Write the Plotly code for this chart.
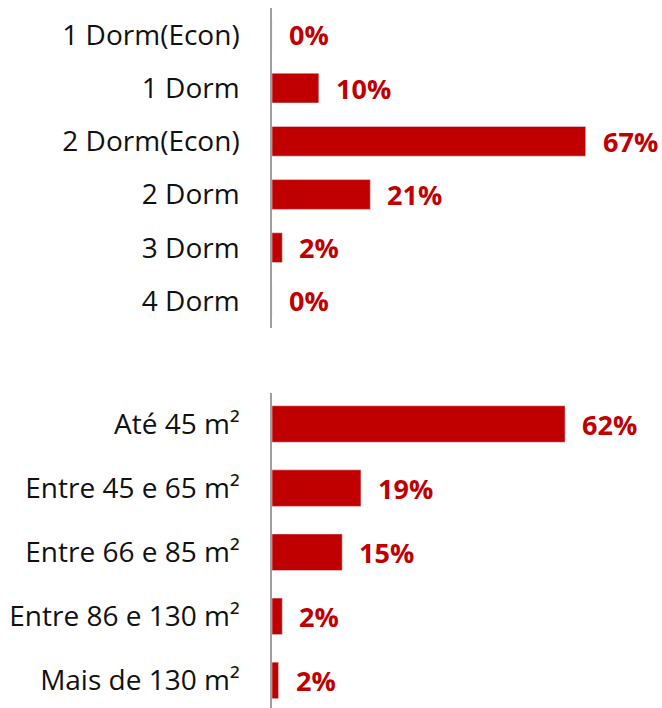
import plotly.graph_objects as go

# Top panel data
rooms_cats = ["1 Dorm(Econ)", "1 Dorm", "2 Dorm(Econ)", "2 Dorm", "3 Dorm", "4 Dorm"]
rooms_vals = [0, 10, 67, 21, 2.2, 0]
rooms_labels = ["0%", "10%", "67%", "21%", "2%", "0%"]

# Bottom panel data
area_cats = ["Até 45 m²", "Entre 45 e 65 m²", "Entre 66 e 85 m²", "Entre 86 e 130 m²", "Mais de 130 m²"]
area_vals = [62.6, 19, 15, 2.2, 1.4]
area_labels = ["62%", "19%", "15%", "2%", "2%"]

RED = "#C00000"
FONT = "Open Sans"

fig = go.Figure()
fig.add_trace(go.Bar(y=rooms_cats, x=rooms_vals, orientation="h", marker_color=RED,
                     width=0.56, xaxis="x", yaxis="y", hoverinfo="skip"))
fig.add_trace(go.Bar(y=area_cats, x=area_vals, orientation="h", marker_color=RED,
                     width=0.57, xaxis="x2", yaxis="y2", hoverinfo="skip"))

ann = []
for c, v, t in zip(rooms_cats, rooms_vals, rooms_labels):
    ann.append(dict(x=v, y=c, xref="x", yref="y", text=t, showarrow=False,
                    xanchor="left", yanchor="middle", xshift=15,
                    font=dict(family=FONT, size=27, color=RED, weight="bold")))
for c, v, t in zip(area_cats, area_vals, area_labels):
    ann.append(dict(x=v, y=c, xref="x2", yref="y2", text=t, showarrow=False,
                    xanchor="left", yanchor="middle", xshift=15,
                    font=dict(family=FONT, size=27, color=RED, weight="bold")))

H = 708
xcommon = dict(visible=False, range=[0, 83.3], showgrid=False, zeroline=False, fixedrange=True)
ycommon = dict(showline=True, linecolor="#A0A0A0", linewidth=1.5, showgrid=False,
               zeroline=False, ticks="", ticklabelstandoff=25,
               tickfont=dict(family=FONT, size=28, color="#111111"))

fig.update_layout(
    width=662, height=H,
    margin=dict(l=272, r=0, t=0, b=0),
    paper_bgcolor="white", plot_bgcolor="white",
    showlegend=False,
    xaxis=dict(**xcommon, anchor="y", domain=[0, 1]),
    xaxis2=dict(**xcommon, anchor="y2", domain=[0, 1]),
    yaxis=dict(**ycommon, anchor="x", domain=[(H - 327.5) / H, (H - 8.3) / H],
               type="category", range=[5.5, -0.5]),
    yaxis2=dict(**ycommon, anchor="x2", domain=[0, (H - 393) / H],
                type="category", range=[4.43, -0.484]),
    annotations=ann,
)

fig.write_html("out.html", config={"displayModeBar": False},
               post_script="document.body.style.margin='0';document.body.style.overflow='hidden';")
